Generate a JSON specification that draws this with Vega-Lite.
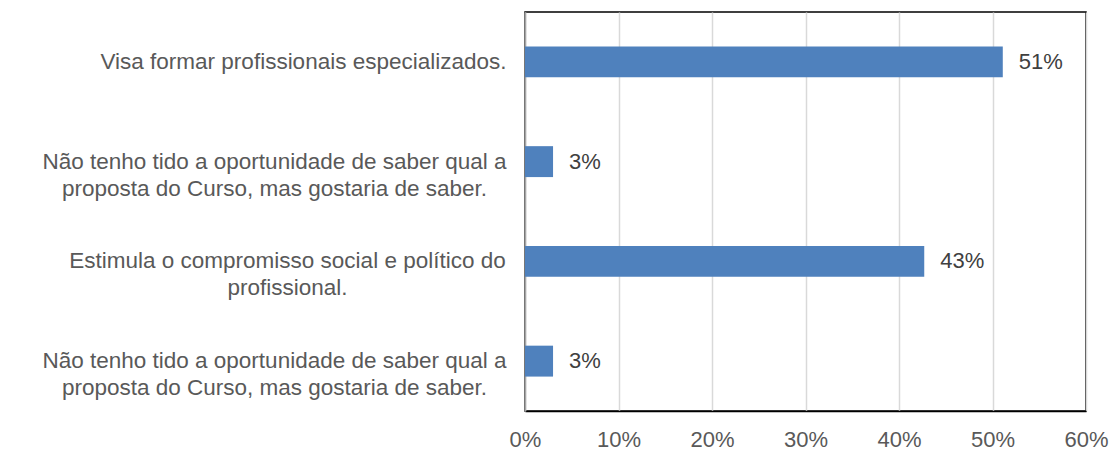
{
  "$schema": "https://vega.github.io/schema/vega-lite/v6.json",
  "width": 561,
  "height": 399,
  "autosize": "none",
  "padding": {"left": 525, "top": 12, "right": 27, "bottom": 40},
  "background": "white",
  "config": {
    "view": {"stroke": "#000000", "strokeWidth": 1.5},
    "font": "Arial, Liberation Sans, sans-serif"
  },
  "data": {
    "values": [
      {"label": "Visa formar profissionais especializados.", "value": 0.511},
      {"label": "Não tenho tido a oportunidade de saber qual a|proposta do Curso, mas gostaria de saber.", "value": 0.030},
      {"label": "Estimula o compromisso social e político do|profissional.", "value": 0.427},
      {"label": "Não tenho tido a oportunidade de saber qual a|proposta do Curso, mas gostaria de saber. ", "value": 0.030}
    ]
  },
  "encoding": {
    "y": {
      "field": "label",
      "type": "nominal",
      "sort": null,
      "title": null,
      "scale": {"paddingInner": 0.69, "paddingOuter": 0.345},
      "axis": {
        "labelExpr": "split(trim(datum.value), '|')",
        "labelAlign": "center",
        "labelBaseline": "middle",
        "labelPadding": {
          "condition": [
            {"test": "indexof(datum.value, 'Visa') >= 0", "value": 222},
            {"test": "indexof(datum.value, 'Não') >= 0", "value": 251}
          ],
          "value": 238
        },
        "tickSize": 0,
        "ticks": false,
        "labelLimit": 0,
        "labelFontSize": 22.5,
        "labelLineHeight": 27,
        "labelColor": "#595959",
        "domainColor": "#a6a6a6",
        "domainWidth": 1.5,
        "grid": false
      }
    },
    "x": {
      "field": "value",
      "type": "quantitative",
      "scale": {"domain": [0, 0.6], "nice": false},
      "title": null,
      "axis": {
        "format": ".0%",
        "values": [0, 0.1, 0.2, 0.3, 0.4, 0.5, 0.6],
        "ticks": false,
        "tickSize": 0,
        "labelPadding": 18,
        "labelFontSize": 22,
        "labelColor": "#595959",
        "labelFlush": false,
        "labelOverlap": false,
        "domainColor": "#000000",
        "domainWidth": 1.5,
        "gridColor": "#d9d9d9",
        "gridWidth": 1.5
      }
    }
  },
  "layer": [
    {"mark": {"type": "bar", "color": "#4f81bd"}},
    {
      "mark": {"type": "text", "align": "left", "baseline": "middle", "dx": 16, "fontSize": 22, "color": "#404040"},
      "encoding": {"text": {"field": "value", "type": "quantitative", "format": ".0%"}}
    }
  ]
}
